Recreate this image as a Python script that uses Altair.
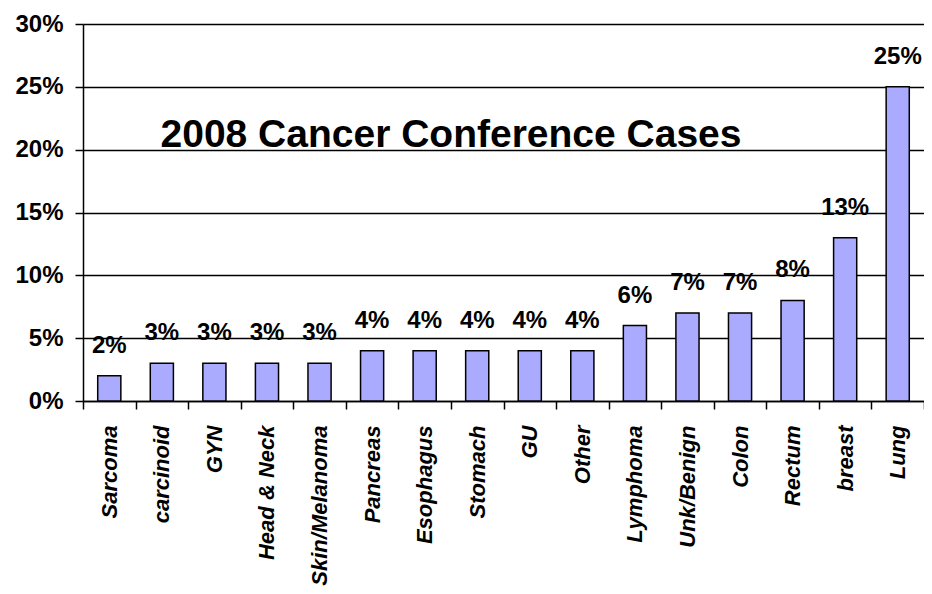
import altair as alt
import pandas as pd

categories = ["Sarcoma", "carcinoid", "GYN", "Head & Neck", "Skin/Melanoma",
              "Pancreas", "Esophagus", "Stomach", "GU", "Other", "Lymphoma",
              "Unk/Benign", "Colon", "Rectum", "breast", "Lung"]
shares = [0.02, 0.03, 0.03, 0.03, 0.03, 0.04, 0.04, 0.04, 0.04, 0.04,
          0.06, 0.07, 0.07, 0.08, 0.13, 0.25]
y_ticks = [0, 0.05, 0.10, 0.15, 0.20, 0.25, 0.30]
chart_title = "2008 Cancer Conference Cases"

df = pd.DataFrame({"category": categories, "share": shares})
FONT = "Liberation Sans"

x_enc = alt.X(
    "category:N", sort=categories, title="",
    scale=alt.Scale(paddingInner=0, paddingOuter=0),
    axis=alt.Axis(
        labelAngle=270, labelAlign="right", labelBaseline="middle",
        labelFont=FONT, labelFontSize=22, labelFontWeight="bold",
        labelFontStyle="italic", labelColor="#000000", labelPadding=16,
        tickBand="extent", tickSize=8, tickColor="#000000", tickWidth=1.5,
        domainColor="#000000", domainWidth=1.5, grid=False, labelLimit=400,
    ),
)
y_enc = alt.Y(
    "share:Q", title="",
    scale=alt.Scale(domain=[0, 0.30], nice=False),
    axis=alt.Axis(
        values=y_ticks, format=".0%", labelFont=FONT, labelFontSize=24,
        labelFontWeight="bold", labelColor="#000000", labelPadding=12,
        tickSize=8, tickColor="#000000", tickWidth=1.5,
        domainColor="#000000", domainWidth=1.5,
        grid=True, gridColor="#000000", gridWidth=1.5,
    ),
)

base = alt.Chart(df)
bars = base.mark_bar(
    width=alt.RelativeBandSize(0.44), color="#AAAAFF",
    stroke="#000000", strokeWidth=1.5,
).encode(x=x_enc, y=y_enc)

labels = base.mark_text(
    baseline="bottom", dy=-18, font=FONT, fontSize=24, fontWeight="bold",
    color="#000000",
).encode(x=alt.X("category:N", sort=categories), y=alt.Y("share:Q"),
         text=alt.Text("share:Q", format=".0%"))

title_layer = alt.Chart(pd.DataFrame({"t": [chart_title]})).mark_text(
    font=FONT, fontSize=39, fontWeight="bold", color="#000000",
    align="center", baseline="alphabetic",
).encode(text="t:N", x=alt.value(368), y=alt.value(123))

chart = alt.layer(bars, labels, title_layer).properties(
    width=841, height=377,
    autosize=alt.AutoSizeParams(type="none"),
    padding={"left": 75, "top": 16, "right": 0, "bottom": 185},
).configure_view(
    fill="#CCCCCC", stroke="transparent",
).configure(background="#FFFFFF")

chart.save("out.html", embed_options={"renderer": "svg", "actions": False})
